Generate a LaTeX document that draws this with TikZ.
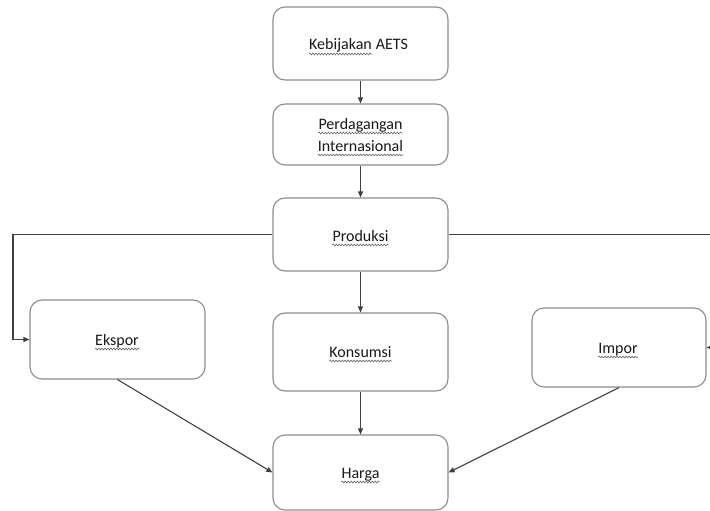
\documentclass[tikz,border=0pt]{standalone}
\usepackage{fontspec}
\setmainfont{Carlito}
\usetikzlibrary{arrows.meta,decorations.pathmorphing}

\tikzset{
  box/.style={draw=black!45, line width=1.1pt, rounded corners=12pt, fill=white,
    minimum width=175pt, inner sep=0pt},
  word/.style={inner sep=0pt, anchor=base, text=black!90, font=\fontsize{16}{20}\selectfont},
  link/.style={draw=black!75, line width=1.1pt, -{Triangle[length=6pt,width=5pt]}},
  squig/.style={draw=black!60, line width=0.6pt,
    decorate, decoration={snake, segment length=3pt, amplitude=0.9pt}}
}
% wavy underline beneath a named word node
\newcommand{\squiggle}[1]{\draw[squig] ([yshift=-4pt]#1.base west) -- ([yshift=-4pt]#1.base east);}

\begin{document}
\begin{tikzpicture}[x=1pt, y=-1pt]
\useasboundingbox (0,0) rectangle (710,511);

% boxes
\node[box, minimum height=73pt] (kebijakan) at (360.5,43.5) {};
\node[box, minimum height=61pt] (dagang) at (360.5,134.5) {};
\node[box, minimum height=73pt] (produksi) at (360.5,234.5) {};
\node[box, minimum height=79pt] (ekspor) at (117.5,339.5) {};
\node[box, minimum height=78pt] (konsumsi) at (360.5,352) {};
\node[box, minimum width=174pt, minimum height=79pt] (impor) at (619,347.5) {};
\node[box, minimum height=75pt] (harga) at (360.5,472.5) {};

% labels
\node[word, anchor=base west] (kebword) at (309,50) {Kebijakan};
\node[word, anchor=base west] (aets) at ([xshift=3.6pt]kebword.base east) {AETS};
\node[word] (dagtext) at (360.5,129) {Perdagangan};
\node[word] (inttext) at (360.5,151) {Internasional};
\node[word] (prodtext) at (360.5,241) {Produksi};
\node[word] (eksptext) at (117,345) {Ekspor};
\node[word] (kontext) at (360.5,357) {Konsumsi};
\node[word] (imptext) at (618,353) {Impor};
\node[word] (hartext) at (360.5,478) {Harga};

\squiggle{kebword}
\squiggle{dagtext}
\squiggle{inttext}
\squiggle{prodtext}
\squiggle{eksptext}
\squiggle{kontext}
\squiggle{imptext}
\squiggle{hartext}

% connectors
\coordinate (leftbend) at (13,0);
\coordinate (rightend) at (712,0);
\coordinate (rightin) at (714,0);

\draw[link] (kebijakan) -- (dagang);
\draw[link] (dagang) -- (produksi);
\draw[link] (produksi) -- (konsumsi);
\draw[link] (konsumsi) -- (harga);
\draw[link] (produksi.west) -| (leftbend |- ekspor.west) -- (ekspor.west);
\draw[link, -] (produksi.east) -- (produksi.east -| rightend);
\draw[link] (rightin |- impor.east) -- (impor.east);
\draw[link] (ekspor.south) -- (harga.west);
\draw[link] (impor.south) -- (harga.east);
\end{tikzpicture}
\end{document}
